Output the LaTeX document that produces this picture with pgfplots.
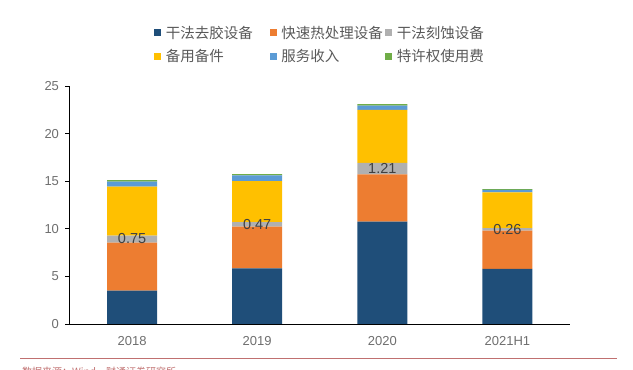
\documentclass[border=0pt]{standalone}
\usepackage{pgfplots}
\pgfplotsset{compat=1.18}
\usepackage{fontspec}
\setmainfont{Liberation Sans}
\newfontfamily\cjk{Noto Sans CJK SC}
\definecolor{cNavy}{HTML}{1F4E79}
\definecolor{cOrange}{HTML}{ED7D31}
\definecolor{cGray}{HTML}{B0B0B0}
\definecolor{cYellow}{HTML}{FFC000}
\definecolor{cBlue}{HTML}{5B9BD5}
\definecolor{cGreen}{HTML}{70AD47}
\definecolor{tickgray}{HTML}{6E6E6E}
\definecolor{leggray}{HTML}{595959}
\definecolor{lblgray}{HTML}{404040}
\definecolor{srcred}{HTML}{C07070}
\begin{document}
\begin{tikzpicture}
\useasboundingbox (0,0) rectangle (633pt,370pt);
\clip (0,0) rectangle (633pt,370pt);
\begin{axis}[
  at={(69.5pt,46pt)}, anchor=south west,
  scale only axis, width=500.5pt, height=238pt,
  ybar stacked, bar width=50pt,
  xmin=-0.5, xmax=3.5, ymin=0, ymax=25,
  axis x line*=bottom, axis y line*=left,
  axis line style={black, line width=0.8pt},
  xtick={0,1,2,3}, xticklabels={2018,2019,2020,2021H1},
  xtick style={draw=none},
  extra x ticks={0.5,1.5,2.5,3.5}, extra x tick labels={},
  extra x tick style={tick align=inside, major tick length=4pt, tick style={draw=black, line width=0.8pt}},
  ytick={0,5,10,15,20,25},
  tick align=outside, major tick length=4pt,
  ytick style={black, line width=0.8pt},
  ticklabel style={font=\fontsize{13}{13}\selectfont, text=tickgray},
  /pgf/number format/assume math mode=true,
  xticklabel style={yshift=-5pt},
  yticklabel style={xshift=-3pt},
  every axis plot/.append style={draw=none},
  legend columns=3,
  legend style={at={(0.163,1.27)}, anchor=north west, draw=none, fill=none,
    font=\cjk\fontsize{14.5}{14.5}\selectfont, text=leggray,
    /tikz/every even column/.append style={column sep=0pt},
    row sep=6pt},
  legend cell align=left,
  legend image code/.code={\fill[#1, draw=none] (0pt,-3.5pt) rectangle (7pt,3.5pt);},
]
\addplot[fill=cNavy] coordinates {(0,3.5) (1,5.85) (2,10.75) (3,5.8)};
\addlegendentry{\makebox[104.5pt][l]{\hspace{2.5pt}干法去胶设备}}
\addplot[fill=cOrange] coordinates {(0,5.04) (1,4.37) (2,4.97) (3,4.0)};
\addlegendentry{\makebox[104.5pt][l]{\hspace{2.5pt}快速热处理设备}}
\addplot[fill=cGray] coordinates {(0,0.75) (1,0.47) (2,1.21) (3,0.26)};
\addlegendentry{\makebox[104.5pt][l]{\hspace{2.5pt}干法刻蚀设备}}
\addplot[fill=cYellow] coordinates {(0,5.13) (1,4.33) (2,5.55) (3,3.77)};
\addlegendentry{\makebox[104.5pt][l]{\hspace{2.5pt}备用备件}}
\addplot[fill=cBlue] coordinates {(0,0.53) (1,0.6) (2,0.45) (3,0.25)};
\addlegendentry{\makebox[104.5pt][l]{\hspace{2.5pt}服务收入}}
\addplot[fill=cGreen] coordinates {(0,0.15) (1,0.12) (2,0.17) (3,0.1)};
\addlegendentry{\makebox[104.5pt][l]{\hspace{2.5pt}特许权使用费}}
\coordinate (L1) at (axis cs:0,8.95);
\coordinate (L2) at (axis cs:1,10.5);
\coordinate (L3) at (axis cs:2,16.3);
\coordinate (L4) at (axis cs:3,9.95);
\end{axis}
\foreach \p/\t in {L1/0.75, L2/0.47, L3/1.21, L4/0.26}
  \node[text=lblgray, font=\fontsize{14.5}{14.5}\selectfont, inner sep=0pt] at (\p) {\t};
\draw[srcred, line width=0.8pt] (20pt,12pt) -- (617pt,12pt);
\node[anchor=base west, inner sep=0pt, text=srcred, font=\cjk\fontsize{10}{10}\selectfont] at (22pt,-6pt) {数据来源：Wind，财通证券研究所};
\end{tikzpicture}
\end{document}
